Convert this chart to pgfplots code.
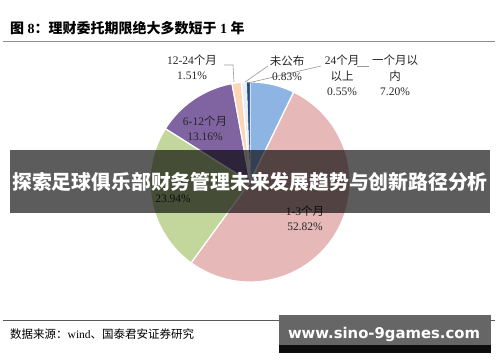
\documentclass[border=0pt]{standalone}
\usepackage{pgfplots}
\pgfplotsset{compat=1.18}
\usepackage{fontspec}
\setmainfont{Liberation Serif}
\newfontfamily\cjk{Noto Sans CJK SC}
\newfontfamily\wm{DejaVu Sans}
\definecolor{cA}{HTML}{8EB4E3}
\definecolor{cB}{HTML}{E6B9B8}
\definecolor{cC}{HTML}{C3D69B}
\definecolor{cD}{HTML}{8064A2}
\definecolor{cE}{HTML}{FCD5B5}
\definecolor{cF}{HTML}{E9EEF6}
\definecolor{cG}{HTML}{1F497D}
% shares (%), clockwise from 12 o'clock
\def\vA{7.20}  % 一个月以内
\def\vB{52.82} % 1-3个月
\def\vC{23.94} % 3-6个月
\def\vD{13.16} % 6-12个月
\def\vE{1.51}  % 12-24个月
\def\vF{0.83}  % 未公布
\def\vG{0.55}  % 24个月以上
\pgfmathsetmacro\sA{90}
\pgfmathsetmacro\sB{\sA-3.6*\vA}
\pgfmathsetmacro\sC{\sB-3.6*\vB}
\pgfmathsetmacro\sD{\sC-3.6*\vC}
\pgfmathsetmacro\sE{\sD-3.6*\vD}
\pgfmathsetmacro\sF{\sE-3.6*\vE}
\pgfmathsetmacro\sG{\sF-3.6*\vF}
\pgfmathsetmacro\sH{\sG-3.6*\vG}
\begin{document}
\begin{tikzpicture}
\begin{scope}[yshift=362bp,x=1bp,y=-1bp]
\fill[white] (0,0) rectangle (500,362);
\useasboundingbox (0,0) rectangle (500,362);
\end{scope}
\begin{axis}[at={(140bp,70bp)},anchor=south west,scale only axis,
  width=220bp,height=220bp,xmin=-1.1,xmax=1.1,ymin=-1.1,ymax=1.1,
  hide axis,clip=false]
\pgfplotsset{slice/.style={draw=white,line width=1.2bp,line join=round,samples=60,variable=\t}}
\addplot[slice,fill=cA,domain=\sB:\sA] ({cos(\t)},{sin(\t)}) -- (axis cs:0,0) -- cycle;
\addplot[slice,fill=cB,domain=\sC:\sB] ({cos(\t)},{sin(\t)}) -- (axis cs:0,0) -- cycle;
\addplot[slice,fill=cC,domain=\sD:\sC] ({cos(\t)},{sin(\t)}) -- (axis cs:0,0) -- cycle;
\addplot[slice,fill=cD,domain=\sE:\sD] ({cos(\t)},{sin(\t)}) -- (axis cs:0,0) -- cycle;
\addplot[slice,fill=cE,domain=\sF:\sE] ({cos(\t)},{sin(\t)}) -- (axis cs:0,0) -- cycle;
\addplot[slice,fill=cF,domain=\sG:\sF] ({cos(\t)},{sin(\t)}) -- (axis cs:0,0) -- cycle;
\addplot[slice,fill=cG,line width=0.5bp,domain=\sH:\sG] ({cos(\t)},{sin(\t)}) -- (axis cs:0,0) -- cycle;
\end{axis}
\begin{scope}[yshift=362bp,x=1bp,y=-1bp]
\tikzset{lab/.style={align=center,font=\fontsize{11.5bp}{15.5bp}\selectfont,text=black!85,inner sep=0pt}}
% title and rules
\node[anchor=west,inner sep=0pt,font=\fontsize{14bp}{16bp}\selectfont\bfseries] at (10,28) {{\cjk\bfseries 图} 8{\cjk\bfseries ：理财委托期限绝大多数短于} 1 {\cjk\bfseries 年}};
\draw[line width=1.8bp,black!45] (3,41.5) -- (495,41.5);
\draw[line width=0.8bp,black!65] (3,320) -- (495,320);
\node[anchor=west,inner sep=0pt,font=\fontsize{11.5bp}{14bp}\selectfont] at (10,334) {{\cjk 数据来源：}wind{\cjk 、国泰君安证券研究}};
% leader lines
\draw[black!40,line width=0.6bp] (224,65) -- (233,65) -- (234,82);
\draw[black!40,line width=0.6bp] (268,66) -- (245,82);
\draw[black!40,line width=0.6bp] (321,66) -- (248,83);
\draw[black!40,line width=0.6bp] (357,66) -- (369,66);
% labels
\node[lab] at (192,67) {12-24{\cjk 个月}\\1.51\%};
\node[lab] at (287,68) {{\cjk 未公布}\\0.83\%};
\node[lab] at (342,75.5) {24{\cjk 个月}\\{\cjk 以上}\\0.55\%};
\node[lab] at (395,75.5) {{\cjk 一个月以}\\{\cjk 内}\\7.20\%};
\node[lab] at (205,128) {6-12{\cjk 个月}\\13.16\%};
\node[lab] at (173,199) {23.94\%};
\node[lab] at (305,218) {1-3{\cjk 个月}\\52.82\%};
% banner overlay
\fill[black,opacity=0.64] (10,150) rectangle (490,213);
\node[text=white,inner sep=0pt,font=\fontsize{19.8bp}{22bp}\selectfont\cjk\bfseries] at (250,182) {探索足球俱乐部财务管理未来发展趋势与创新路径分析};
% watermark
\fill[black!60] (279,315) rectangle (491,345);
\fill[black!95] (279,345) rectangle (491,353);
\node[text=white,inner sep=0pt] at (384,334) {\resizebox{192bp}{!}{\wm\bfseries www.sino-9games.com}};
\end{scope}
\end{tikzpicture}
\end{document}
